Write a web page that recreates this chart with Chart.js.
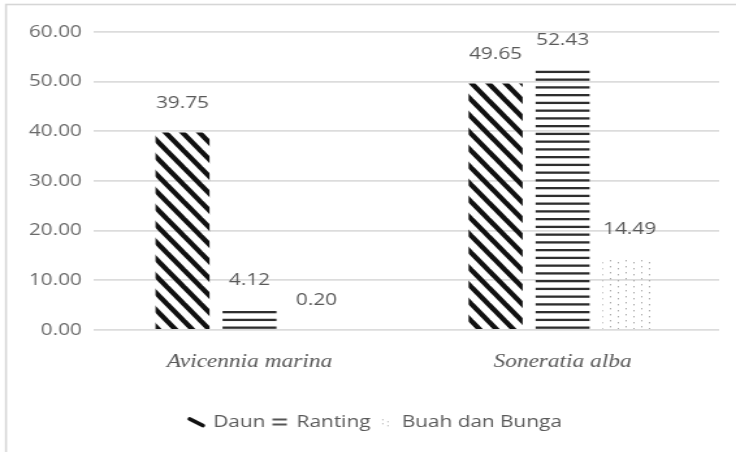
<!DOCTYPE html>
<html>
<head>
<meta charset="utf-8">
<script src="https://cdn.jsdelivr.net/npm/chart.js@4.4.1/dist/chart.umd.min.js"></script>
<style>
  html, body { margin: 0; padding: 0; background: #fff; overflow: hidden; }
  /* the chart is laid out on a narrower canvas and widened to the page */
  #wrap { width: 566px; height: 452px; transform: scaleX(1.3004); transform-origin: 0 0; }
</style>
</head>
<body>
<div id="wrap"><canvas id="c" width="566" height="452"></canvas></div>
<script>
const categories = ['Avicennia marina', 'Soneratia alba'];
const seriesNames = ['Daun', 'Ranting', 'Buah dan Bunga'];
const daun = [39.75, 49.65];
const ranting = [4.12, 52.43];
const buahBunga = [0.20, 14.49];
const yTicks = [0, 10, 20, 30, 40, 50, 60];

function tile(w, h, paint) {
  const cv = document.createElement('canvas');
  cv.width = w; cv.height = h;
  paint(cv.getContext('2d'), w, h);
  return cv;
}

const ctx0 = document.getElementById('c').getContext('2d');

// diagonal black stripes
const stripeTile = tile(13, 17, (g, w, h) => {
  g.strokeStyle = '#111';
  g.lineWidth = 4.3;
  for (let k = -1; k <= 1; k++) {
    g.beginPath();
    g.moveTo(k * w - w, -h);
    g.lineTo(k * w + 2 * w, 2 * h);
    g.stroke();
  }
});
// horizontal lines
const lineTile = tile(4, 31, (g, w, h) => {
  g.fillStyle = '#2e2e2e';
  for (let k = 0; k < 4; k++) g.fillRect(0, k * 7.75 + 1, w, 2.3);
});
// faint dots
const dotTile = tile(12, 6, (g) => {
  g.fillStyle = '#a9a9a9';
  g.fillRect(1, 2, 1, 1.4);
  g.fillRect(7, 4, 1, 1.4);
});

const patterns = [
  ctx0.createPattern(stripeTile, 'repeat'),
  ctx0.createPattern(lineTile, 'repeat'),
  ctx0.createPattern(dotTile, 'repeat')
];

// legend markers
const legendMarks = [
  tile(16, 12, (g) => {
    g.strokeStyle = '#111'; g.lineWidth = 3.6; g.lineCap = 'round';
    g.beginPath(); g.moveTo(3, 3); g.lineTo(13, 9.5); g.stroke();
  }),
  tile(12, 10, (g) => {
    g.fillStyle = '#555';
    g.fillRect(0.5, 1.5, 11, 2);
    g.fillRect(0.5, 6.5, 11, 2);
  }),
  tile(8, 10, (g) => {
    g.fillStyle = '#bdbdbd';
    g.fillRect(2, 2, 1, 1.4); g.fillRect(2, 6, 1, 1.4);
    g.fillRect(6, 4, 1, 1.4); g.fillRect(6, 8, 1, 1.4);
  })
];

const frame = {
  id: 'frame',
  beforeDraw(chart) {
    const c = chart.ctx;
    c.save();
    c.strokeStyle = '#d6d6d6';
    c.lineWidth = 1.6;
    c.strokeRect(4.6, 4.5, 700, 600);
    c.restore();
  }
};

// move the legend row a little to the right of the canvas centre
const legendShift = {
  id: 'legendShift',
  afterLayout(chart) {
    if (chart.legend) {
      chart.legend.left += 12.5;
      chart.legend.right += 12.5;
    }
  }
};

const valueLabels = {
  id: 'valueLabels',
  afterDatasetsDraw(chart) {
    const c = chart.ctx;
    c.save();
    c.font = '16px "Open Sans"';
    c.fillStyle = '#595959';
    c.textAlign = 'center';
    c.textBaseline = 'middle';
    chart.data.datasets.forEach((ds, i) => {
      chart.getDatasetMeta(i).data.forEach((bar, j) => {
        c.fillText(ds.data[j].toFixed(2), bar.x, bar.y - 29);
      });
    });
    c.restore();
  }
};

const seriesData = [daun, ranting, buahBunga];

new Chart(ctx0, {
  type: 'bar',
  data: {
    labels: categories,
    datasets: seriesNames.map((name, i) => ({
      label: name,
      data: seriesData[i],
      backgroundColor: patterns[i],
      borderWidth: 0,
      categoryPercentage: 0.642,
      barPercentage: 0.806
    }))
  },
  options: {
    responsive: false,
    animation: false,
    events: [],
    layout: { padding: { top: 32, right: 13, bottom: 12, left: 0 } },
    plugins: {
      tooltip: { enabled: false },
      legend: {
        position: 'bottom',
        labels: {
          usePointStyle: true,
          pointStyleWidth: 10,
          padding: 6,
          color: '#595959',
          font: { family: 'Open Sans', size: 16 },
          generateLabels: (chart) => chart.data.datasets.map((ds, i) => ({
            text: ds.label,
            pointStyle: legendMarks[i],
            fontColor: '#595959',
            fillStyle: 'transparent',
            strokeStyle: 'transparent',
            lineWidth: 0,
            hidden: false,
            datasetIndex: i
          }))
        }
      }
    },
    scales: {
      x: {
        grid: { display: false, drawTicks: false },
        border: { display: false },
        ticks: {
          padding: 21,
          color: '#595959',
          font: { family: 'Liberation Serif', style: 'italic', size: 18 }
        },
        afterFit: (s) => { s.height = 78; }
      },
      y: {
        min: yTicks[0],
        max: yTicks[yTicks.length - 1],
        grid: { color: '#dcdcdc', lineWidth: 1.8, drawTicks: false },
        border: { display: false },
        ticks: {
          stepSize: yTicks[1] - yTicks[0],
          padding: 8.5,
          color: '#6a6a6a',
          font: { family: 'Open Sans', size: 16 },
          callback: (v) => Number(v).toFixed(2)
        },
        afterFit: (s) => { s.width = 71.5; }
      }
    }
  },
  plugins: [frame, legendShift, valueLabels]
});
</script>
</body>
</html>
